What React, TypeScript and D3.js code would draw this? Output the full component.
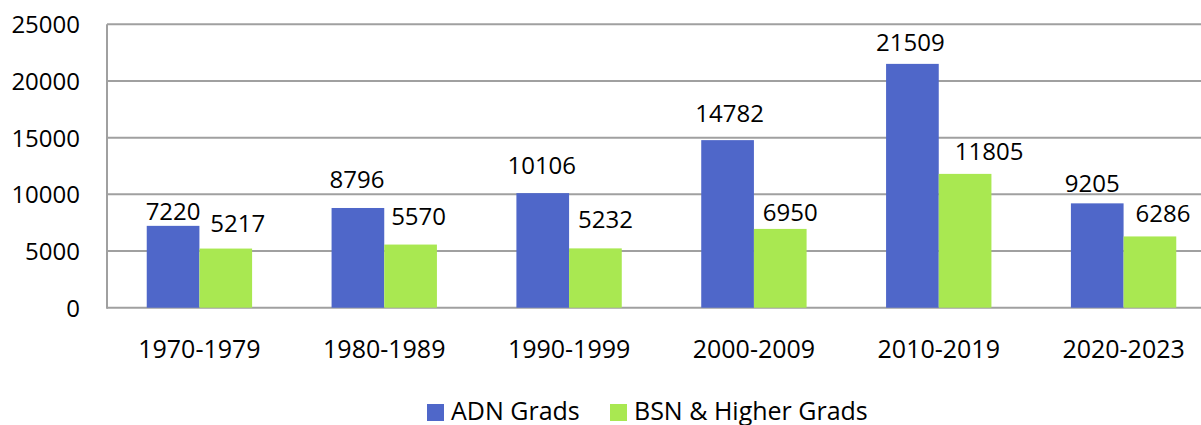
import { useEffect, useRef } from 'react';
import * as d3 from 'd3';

const W = 1201
const H = 425
const margin = { top: 24.3, left: 107, bottom: 425 - 307.7 }
const plotRight = 1216 // plot runs past the window edge, as in the original

const decades = ['1970-1979', '1980-1989', '1990-1999', '2000-2009', '2010-2019', '2020-2023']
const adnGrads = [7220, 8796, 10106, 14782, 21509, 9205]
const bsnGrads = [5217, 5570, 5232, 6950, 11805, 6286]
const yTicks = [0, 5000, 10000, 15000, 20000, 25000]
const seriesNames = ['ADN Grads', 'BSN & Higher Grads']

// labels were hand-placed in the source chart: small nudges (dx, gap above bar)
const adnLabelDx = [0, -1, -1, 2, -2, -5]
const adnLabelGap = [6, 20, 19, 18, 13, 11]
const bsnLabelDx = [12, 8, 10, 10, 24, 13]
const bsnLabelGap = [17, 20, 20, 8, 14, 14]

const colors = ['#4f67c9', '#a9e851']
const font = '"Open Sans", sans-serif'

const App = () => {
  const svgRef = useRef(null)

  useEffect(() => {
    document.body.style.margin = '0'
    if (!svgRef.current) return
    const svg = d3.select(svgRef.current)
    svg.selectAll('*').remove()

    const x0 = d3.scaleBand()
      .domain(decades)
      .range([margin.left, plotRight])
      .paddingInner(0.43)
      .paddingOuter(0.215)

    const x1 = d3.scaleBand()
      .domain(['adn', 'bsn'])
      .range([0, x0.bandwidth()])

    const y = d3.scaleLinear()
      .domain([0, 25000])
      .range([H - margin.bottom, margin.top])

    // gridlines
    svg.append('g')
      .selectAll('line')
      .data(yTicks)
      .enter()
      .append('line')
      .attr('x1', margin.left)
      .attr('x2', plotRight)
      .attr('y1', d => y(d))
      .attr('y2', d => y(d))
      .attr('stroke', '#a0a0a0')
      .attr('stroke-width', 2)

    // left axis line
    svg.append('line')
      .attr('x1', margin.left)
      .attr('x2', margin.left)
      .attr('y1', y(25000))
      .attr('y2', y(0) + 1)
      .attr('stroke', '#a0a0a0')
      .attr('stroke-width', 2)

    // y tick labels
    svg.append('g')
      .selectAll('text')
      .data(yTicks)
      .enter()
      .append('text')
      .attr('x', 80)
      .attr('y', d => y(d) + 9)
      .attr('text-anchor', 'end')
      .style('font-family', font)
      .style('font-size', '24px')
      .attr('fill', '#000')
      .text(d => d)

    const rows = decades.map((d, i) => ({
      decade: d,
      vals: [
        { key: 'adn', v: adnGrads[i], dx: adnLabelDx[i], gap: adnLabelGap[i], c: colors[0] },
        { key: 'bsn', v: bsnGrads[i], dx: bsnLabelDx[i], gap: bsnLabelGap[i], c: colors[1] },
      ],
    }))

    const groups = svg.append('g')
      .selectAll('g')
      .data(rows)
      .enter()
      .append('g')
      .attr('transform', d => `translate(${x0(d.decade)},0)`)

    groups.selectAll('rect')
      .data(d => d.vals)
      .enter()
      .append('rect')
      .attr('x', d => x1(d.key))
      .attr('y', d => y(d.v))
      .attr('width', x1.bandwidth())
      .attr('height', d => y(0) - y(d.v))
      .attr('fill', d => d.c)

    groups.selectAll('text')
      .data(d => d.vals)
      .enter()
      .append('text')
      .attr('x', d => x1(d.key) + x1.bandwidth() / 2 + d.dx)
      .attr('y', d => y(d.v) - d.gap)
      .attr('text-anchor', 'middle')
      .style('font-family', font)
      .style('font-size', '24px')
      .attr('fill', '#000')
      .text(d => d.v)

    // x labels
    svg.append('g')
      .selectAll('text')
      .data(decades)
      .enter()
      .append('text')
      .attr('x', d => x0(d) + x0.bandwidth() / 2)
      .attr('y', 358)
      .attr('text-anchor', 'middle')
      .style('font-family', font)
      .style('font-size', '25px')
      .attr('fill', '#000')
      .text(d => d)

    // legend
    const legendX = [427, 610]
    const legend = svg.append('g')
      .selectAll('g')
      .data(seriesNames)
      .enter()
      .append('g')
      .attr('transform', (d, i) => `translate(${legendX[i]},404)`)
    legend.append('rect')
      .attr('width', 17)
      .attr('height', 17)
      .attr('fill', (d, i) => colors[i])
    legend.append('text')
      .attr('x', 24)
      .attr('y', 15.5)
      .style('font-family', font)
      .style('font-size', '25px')
      .attr('fill', '#000')
      .text(d => d)
  }, [])

  return <svg ref={svgRef} width={W} height={H} style={{ display: 'block', background: '#fff' }} />
}

export default App;
